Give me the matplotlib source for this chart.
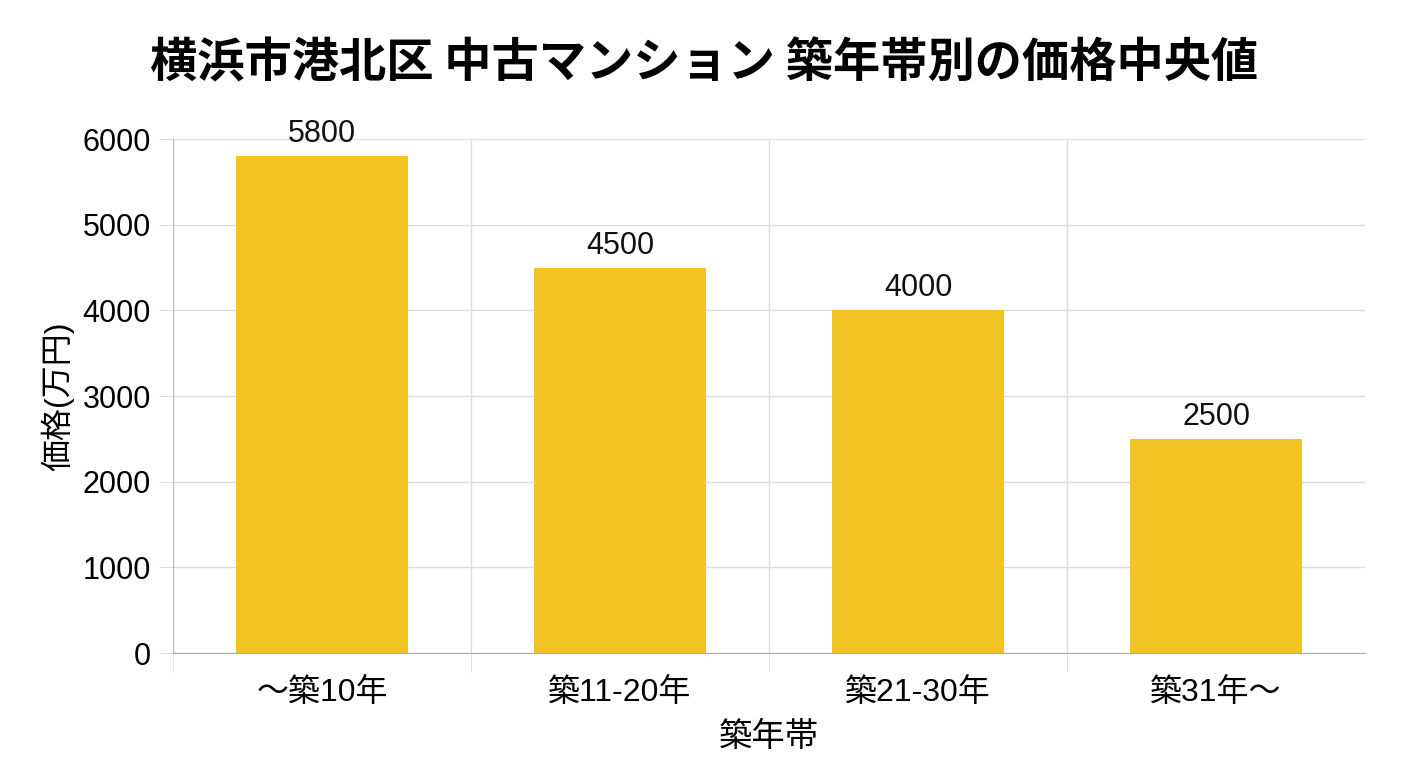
import matplotlib.pyplot as plt
from matplotlib.ticker import FixedLocator

plt.rcParams["font.family"] = ["Liberation Sans", "Noto Sans CJK JP", "DejaVu Sans"]

categories = ["～築10年", "築11-20年", "築21-30年", "築31年～"]
prices = [5800, 4500, 4000, 2500]

title = "横浜市港北区 中古マンション 築年帯別の価格中央値"
bar_color = "#F2C423"
grid_color = "#DDDDDD"

fig = plt.figure(figsize=(14.08, 7.68), dpi=100)
ax = fig.add_axes([0.1229, 0.1497, 0.9695 - 0.1229, 0.819 - 0.1497])

x = list(range(len(categories)))
bars = ax.bar(x, prices, width=0.58, color=bar_color, zorder=2)

for rect, v in zip(bars, prices):
    ax.text(rect.get_x() + rect.get_width() / 2, v + 80, str(v),
            ha="center", va="bottom", fontsize=22, color="#111111")

ax.set_xlim(-0.5, len(categories) - 0.5)
ax.set_ylim(0, 6000)
ax.set_yticks(range(0, 6001, 1000))
ax.set_xticks(x)
ax.set_xticklabels(categories, fontsize=23)
ax.tick_params(axis="x", which="major", length=0, pad=18)
# 区切り線 (右端は無し)
ax.xaxis.set_minor_locator(FixedLocator([i - 0.5 for i in range(len(categories))]))
ax.tick_params(axis="x", which="minor", length=14, color=grid_color)
ax.tick_params(axis="y", labelsize=22, length=10, color=grid_color, pad=6)

ax.grid(axis="y", color=grid_color, linewidth=1, zorder=0)
ax.grid(axis="x", which="minor", color=grid_color, linewidth=1, zorder=0)

for side in ["top", "right"]:
    ax.spines[side].set_visible(False)
ax.spines["left"].set_color("#BBBBBB")
ax.spines["bottom"].set_color("#AAAAAA")

ax.set_xlabel("築年帯", fontsize=24, labelpad=10)
ax.set_ylabel("価格(万円)", fontsize=23, labelpad=6)

fig.suptitle(title, fontsize=34, fontweight="bold", x=0.5, y=0.948,
             family=["Noto Sans CJK JP"])

fig.savefig("out.png", dpi=100)
